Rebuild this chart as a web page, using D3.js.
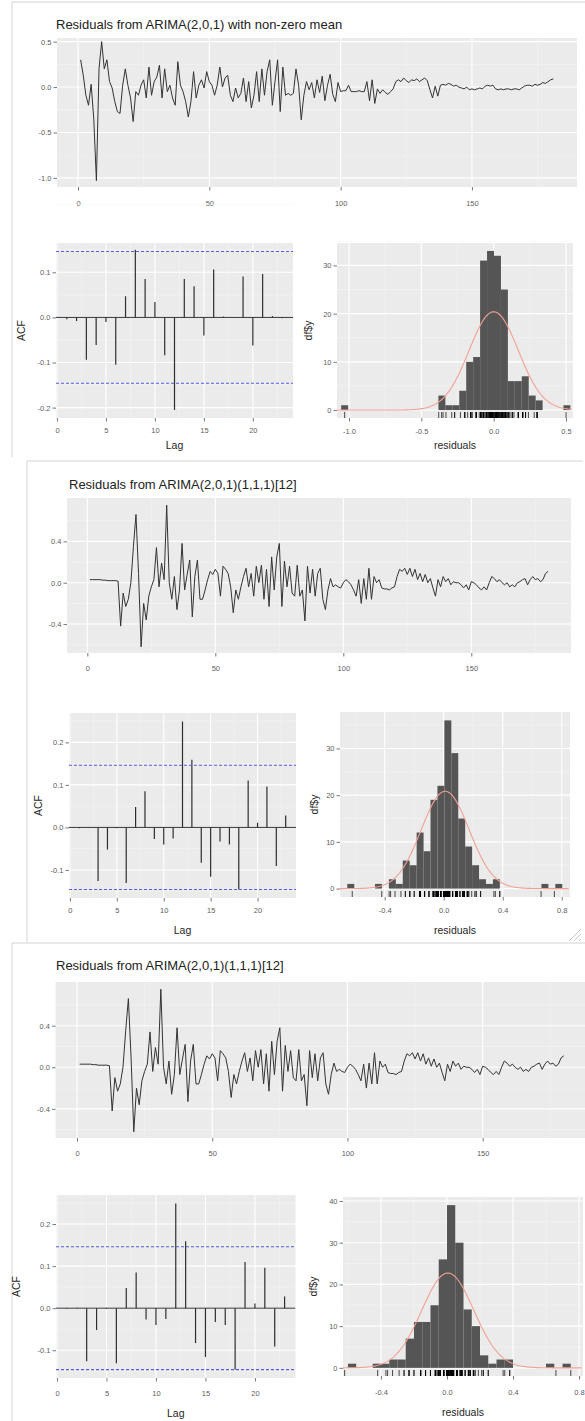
<!DOCTYPE html>
<html>
<head>
<meta charset="utf-8">
<script src="https://cdn.jsdelivr.net/npm/d3@7"></script>
<style>
  body { margin: 0; background: #fff; }
  svg { display: block; font-family: "Liberation Sans", Arial, sans-serif; }
</style>
</head>
<body>
<div id="chart"></div>
<script>
// ---- data ----
const titles = [
  "Residuals from ARIMA(2,0,1) with non-zero mean",
  "Residuals from ARIMA(2,0,1)(1,1,1)[12]",
  "Residuals from ARIMA(2,0,1)(1,1,1)[12]"
];

// residuals, model 1 (181 obs)
const resid1 = [
  0.30, 0.13, -0.09, -0.20, 0.03, -0.35, -1.03, 0.20, 0.50, 0.20,
  0.30, 0.06, -0.01, -0.16, -0.27, -0.29, 0.02, 0.20, 0.02, -0.12,
  -0.38, -0.05, -0.09, 0.02, 0.08, -0.12, 0.22, -0.09, 0.06, 0.11,
  0.24, -0.12, 0.20, -0.05, 0.02, -0.12, -0.20, 0.28, 0.02, -0.05,
  -0.16, -0.33, -0.16, 0.17, -0.12, 0.02, 0.08, -0.01, 0.17, 0.06,
  0.02, -0.09, 0.02, 0.22, 0.00, 0.10, 0.13, -0.09, -0.16, -0.01,
  -0.12, -0.07, 0.10, -0.16, 0.06, -0.23, -0.09, 0.17, -0.16, 0.20,
  -0.09, 0.17, 0.30, -0.20, 0.06, 0.30, -0.27, 0.22, -0.09, -0.07,
  -0.09, -0.07, 0.20, 0.02, -0.36, -0.09, 0.06, -0.03, 0.05, -0.12,
  0.08, -0.06, 0.12, -0.15, 0.02, 0.14, -0.08, -0.16, 0.05, -0.05,
  -0.04, -0.04, 0.02, -0.05, -0.05, -0.05, -0.04, -0.05, -0.05, 0.06,
  -0.15, 0.08, -0.18, -0.02, -0.07, -0.03, -0.06, -0.08, -0.05, -0.02,
  0.06, 0.08, 0.06, 0.10, 0.07, 0.05, 0.08, 0.07, 0.09, 0.06,
  0.08, 0.10, 0.07, -0.03, -0.12, 0.01, -0.10, 0.02, 0.03, 0.02,
  0.04, 0.03, 0.01, 0.02, 0.00, -0.01, -0.02, 0.00, -0.03, -0.02,
  -0.03, -0.02, -0.01, -0.02, 0.01, 0.02, 0.01, 0.02, -0.02, -0.03,
  -0.02, -0.03, -0.02, -0.02, -0.03, -0.02, -0.02, -0.03, -0.01, 0.01,
  0.02, 0.02, 0.01, 0.03, 0.02, 0.03, 0.05, 0.04, 0.06, 0.08, 0.09
];

// residuals, seasonal model (180 obs), shown in panels 2 and 3
const resid2 = [
  0.03, 0.03, 0.03, 0.03, 0.03, 0.025, 0.025, 0.02, 0.02, 0.02,
  0.02, 0.015, -0.42, -0.10, -0.23, -0.16, 0.00, 0.35, 0.66, 0.09,
  -0.62, -0.20, -0.36, -0.13, -0.04, 0.03, 0.34, -0.04, 0.19, 0.03,
  0.75, 0.00, -0.16, 0.06, -0.26, -0.07, 0.38, -0.07, 0.08, 0.22,
  -0.33, 0.06, 0.22, -0.16, -0.16, -0.07, 0.03, 0.11, 0.08, 0.13,
  0.09, -0.13, 0.16, 0.13, 0.09, -0.04, -0.29, -0.07, -0.16, -0.04,
  0.06, 0.14, -0.04, 0.09, -0.13, 0.16, 0.00, 0.17, -0.16, 0.13,
  -0.23, 0.25, -0.07, 0.25, 0.38, -0.23, 0.21, -0.04, 0.16, -0.10,
  -0.13, 0.17, -0.13, -0.07, -0.37, 0.16, -0.10, 0.13, -0.13, 0.09,
  0.14, -0.16, -0.26, -0.07, 0.04, -0.04, -0.02, -0.04, -0.05, 0.00,
  0.03, 0.01, -0.02, -0.07, -0.13, 0.03, -0.20, 0.04, -0.16, 0.14,
  -0.16, 0.06, 0.00, 0.03, -0.05, -0.06, -0.06, -0.07, -0.05, -0.04,
  0.06, 0.13, 0.11, 0.14, 0.08, 0.14, 0.06, 0.13, 0.03, 0.09,
  0.01, 0.08, 0.00, 0.04, -0.05, -0.13, 0.03, -0.04, 0.06, 0.01,
  0.04, -0.02, 0.01, 0.00, 0.00, -0.02, -0.05, -0.02, -0.07, 0.01,
  0.00, -0.02, -0.05, -0.07, -0.04, -0.07, 0.00, 0.06, 0.04, 0.01,
  0.03, 0.00, -0.02, 0.00, -0.04, -0.02, -0.04, 0.00, 0.01, 0.03,
  0.04, -0.02, 0.03, 0.06, 0.03, 0.04, 0.01, 0.03, 0.09, 0.11
];

const lags = [1, 2, 3, 4, 5, 6, 7, 8, 9, 10, 11, 12, 13, 14, 15, 16, 17, 18, 19, 20, 21, 22, 23];
const acf1 = [-0.004, -0.008, -0.094, -0.061, -0.010, -0.105, 0.047, 0.150, 0.085, 0.034, -0.084, -0.205,
              0.085, 0.069, -0.040, 0.106, 0.002, 0.001, 0.091, -0.062, 0.096, 0.003, -0.002];
const acf2 = [-0.002, 0.001, -0.126, -0.052, -0.002, -0.131, 0.048, 0.085, -0.027, -0.040, -0.026, 0.249,
              0.159, -0.083, -0.116, -0.033, -0.040, -0.146, 0.110, 0.011, 0.096, -0.091, 0.028];
const acfLimit = 0.146;

// histogram bins (centres) and counts
const binWidth1 = 0.048;
const bins1 = [-1.03, -0.358, -0.31, -0.262, -0.214, -0.166, -0.118, -0.07, -0.022, 0.026, 0.074, 0.122, 0.17, 0.218, 0.266, 0.314, 0.506];
const counts1 = [1, 3, 1, 1, 4, 10, 11, 31, 33, 32, 25, 6, 6, 7, 3, 2, 1];

const binWidth2 = 0.047;
const bins2 = [-0.63, -0.442, -0.348, -0.301, -0.254, -0.207, -0.16, -0.113, -0.066, -0.019, 0.028, 0.075, 0.122, 0.169, 0.216, 0.263, 0.31, 0.357, 0.686, 0.78];
const counts2 = [1, 1, 2, 1, 6, 5, 12, 8, 19, 22, 36, 29, 15, 9, 5, 2, 1, 2, 1, 1];

const binWidth3 = 0.05;
const bins3 = [-0.575, -0.425, -0.375, -0.325, -0.275, -0.225, -0.175, -0.125, -0.075, -0.025, 0.025, 0.075, 0.125, 0.175, 0.225, 0.275, 0.325, 0.375, 0.625, 0.725];
const counts3 = [1, 1, 1, 2, 2, 7, 11, 11, 15, 26, 39, 30, 14, 10, 3, 1, 2, 2, 1, 1];

// normal overlay parameters (mean, sd)
const normal1 = [0.0, 0.17];
const normal2 = [0.01, 0.162];
const normal3 = [0.005, 0.158];

// tick values
const tsTicksX = [0, 50, 100, 150];
const tsMinorX = [25, 75, 125, 175];
const ts1TicksY = [-1, -0.5, 0, 0.5];
const ts1MinorY = [-0.75, -0.25, 0.25];
const ts2TicksY = [-0.4, 0, 0.4];
const ts2MinorY = [-0.6, -0.2, 0.2, 0.6];
const acfTicksX = [0, 5, 10, 15, 20];
const acfMinorX = [2.5, 7.5, 12.5, 17.5, 22.5];
const acf1TicksY = [-0.2, -0.1, 0, 0.1];
const acf2TicksY = [-0.1, 0, 0.1, 0.2];
const acfMinorY = [-0.15, -0.05, 0.05, 0.15, 0.25];
const hist1TicksX = [-1, -0.5, 0, 0.5];
const hist1MinorX = [-0.75, -0.25, 0.25];
const hist2TicksX = [-0.4, 0, 0.4, 0.8];
const hist2MinorX = [-0.6, -0.2, 0.2, 0.6];
const histTicksY = [0, 10, 20, 30];
const hist3TicksY = [0, 10, 20, 30, 40];
const histMinorY = [5, 15, 25, 35];

// ---- layout ----
const W = 585, H = 1421;
const f1 = d => d.toFixed(1);
const f0 = d => String(d);

const panels = [
  {
    title: titles[0], tx: 56, ty: 29,
    frame: [12, 2, 585, 457],
    ts: { data: resid1, xr: [57, 577], yr: [187, 38], xd: [-8, 190], yd: [-1.10, 0.54],
          ty: ts1TicksY, tyMin: ts1MinorY, gap: 16 },
    acf: { data: acf1, xr: [56, 293], yr: [418, 243], yd: [-0.223, 0.165], ty: acf1TicksY,
           gap: 12, yTitleX: 21, xTitleY: 449 },
    hist: { bins: bins1, counts: counts1, bw: binWidth1, normal: normal1, rug: resid1,
            xr: [337, 573], yr: [418, 243], xd: [-1.083, 0.548], yd: [-1.65, 34.65],
            tx: hist1TicksX, txMin: hist1MinorX, ty: histTicksY, gap: 13, yTitleX: 308, xTitleY: 449 }
  },
  {
    title: titles[1], tx: 69, ty: 489,
    frame: [27, 461, 583, 943],
    ts: { data: resid2, xr: [67, 571], yr: [653, 498], xd: [-7.95, 188.95], yd: [-0.68, 0.82],
          ty: ts2TicksY, tyMin: ts2MinorY, gap: 15 },
    acf: { data: acf2, xr: [69, 296], yr: [898, 713], yd: [-0.166, 0.269], ty: acf2TicksY,
           gap: 12, yTitleX: 38, xTitleY: 934 },
    hist: { bins: bins2, counts: counts2, bw: binWidth2, normal: normal2, rug: resid2,
            xr: [340, 570], yr: [897, 712], xd: [-0.703, 0.856], yd: [-1.8, 37.8],
            tx: hist2TicksX, txMin: hist2MinorX, ty: histTicksY, gap: 13, yTitleX: 314, xTitleY: 934 }
  },
  {
    title: titles[2], tx: 56, ty: 970,
    frame: [12, 943, 585, 1421],
    ts: { data: resid2, xr: [55.5, 588], yr: [1138, 982], xd: [-7.95, 188.95], yd: [-0.68, 0.82],
          ty: ts2TicksY, tyMin: ts2MinorY, gap: 15 },
    acf: { data: acf2, xr: [56, 295.5], yr: [1378, 1195], yd: [-0.166, 0.269], ty: acf2TicksY,
           gap: 15, yTitleX: 16, xTitleY: 1417 },
    hist: { bins: bins3, counts: counts3, bw: binWidth3, normal: normal3, rug: resid2,
            xr: [343, 583], yr: [1376, 1197], xd: [-0.630, 0.824], yd: [-1.95, 40.95],
            tx: hist2TicksX, txMin: hist2MinorX, ty: hist3TicksY, gap: 16, yTitleX: 313, xTitleY: 1416 }
  }
];

const svg = d3.select("#chart").append("svg").attr("width", W).attr("height", H);
let clipId = 0;

function background(g, x, y, xMaj, xMin, yMaj, yMin) {
  const [l, r] = x.range(), [b, t] = y.range();
  g.append("rect").attr("x", l).attr("y", t).attr("width", r - l).attr("height", b - t).attr("fill", "#ebebeb");
  const grid = (vals, vertical, col, w) => g.append("g").selectAll("line").data(vals).join("line")
    .attr("x1", d => vertical ? x(d) : l).attr("x2", d => vertical ? x(d) : r)
    .attr("y1", d => vertical ? t : y(d)).attr("y2", d => vertical ? b : y(d))
    .attr("stroke", col).attr("stroke-width", w);
  grid(xMin, true, "#f5f5f5", 0.6);
  grid(yMin, false, "#f5f5f5", 0.6);
  grid(xMaj, true, "#ffffff", 1.1);
  grid(yMaj, false, "#ffffff", 1.1);
  const id = "clip" + (clipId++);
  g.append("clipPath").attr("id", id).append("rect")
    .attr("x", l).attr("y", t).attr("width", r - l).attr("height", b - t);
  return g.append("g").attr("clip-path", `url(#${id})`);
}

function axes(g, x, y, xMaj, yMaj, xFmt, yFmt, gap) {
  const [l] = x.range(), [b] = y.range();
  const ax = g.append("g").attr("transform", `translate(0,${b})`)
    .call(d3.axisBottom(x).tickValues(xMaj).tickFormat(xFmt).tickSize(3.5).tickPadding(gap - 6.2));
  const ay = g.append("g").attr("transform", `translate(${l},0)`)
    .call(d3.axisLeft(y).tickValues(yMaj).tickFormat(yFmt).tickSize(3.5).tickPadding(2));
  [ax, ay].forEach(a => {
    a.select(".domain").remove();
    a.selectAll(".tick line").attr("stroke", "#555").attr("stroke-width", 0.8);
    a.selectAll(".tick text").attr("fill", "#5e5e5e").attr("font-size", 7.5)
      .attr("font-family", "Liberation Sans, Arial, sans-serif");
  });
}

function axisTitle(g, text, x, y, rotate) {
  const t = g.append("text").text(text).attr("text-anchor", "middle")
    .attr("font-size", 10.5).attr("fill", "#262626");
  if (rotate) t.attr("transform", `translate(${x},${y}) rotate(-90)`).attr("dy", "0.35em");
  else t.attr("x", x).attr("y", y);
}

function drawTs(g, c) {
  const x = d3.scaleLinear().domain(c.xd).range(c.xr);
  const y = d3.scaleLinear().domain(c.yd).range(c.yr);
  const inner = background(g, x, y, tsTicksX, tsMinorX, c.ty, c.tyMin);
  inner.append("path").datum(c.data)
    .attr("d", d3.line().x((d, i) => x(i + 1)).y(d => y(d)))
    .attr("fill", "none").attr("stroke", "#333").attr("stroke-width", 1).attr("stroke-linejoin", "round");
  axes(g, x, y, tsTicksX, c.ty, f0, f1, c.gap);
}

function drawAcf(g, c) {
  const x = d3.scaleLinear().domain([-0.1, 24.1]).range(c.xr);
  const y = d3.scaleLinear().domain(c.yd).range(c.yr);
  const inner = background(g, x, y, acfTicksX, acfMinorX, c.ty, acfMinorY);
  inner.append("line").attr("x1", c.xr[0]).attr("x2", c.xr[1]).attr("y1", y(0)).attr("y2", y(0))
    .attr("stroke", "#333").attr("stroke-width", 1);
  inner.selectAll(".bar").data(c.data).join("line")
    .attr("x1", (d, i) => x(lags[i])).attr("x2", (d, i) => x(lags[i]))
    .attr("y1", y(0)).attr("y2", d => y(d))
    .attr("stroke", "#2e2e2e").attr("stroke-width", 1.2);
  [acfLimit, -acfLimit].forEach(v => inner.append("line")
    .attr("x1", c.xr[0]).attr("x2", c.xr[1]).attr("y1", y(v)).attr("y2", y(v))
    .attr("stroke", "#5b5be0").attr("stroke-width", 1.1).attr("stroke-dasharray", "3,2"));
  axes(g, x, y, acfTicksX, c.ty, f0, f1, c.gap);
  axisTitle(g, "ACF", c.yTitleX, (c.yr[0] + c.yr[1]) / 2, true);
  axisTitle(g, "Lag", (c.xr[0] + c.xr[1]) / 2, c.xTitleY, false);
}

function drawHist(g, c) {
  const x = d3.scaleLinear().domain(c.xd).range(c.xr);
  const y = d3.scaleLinear().domain(c.yd).range(c.yr);
  const inner = background(g, x, y, c.tx, c.txMin, c.ty, histMinorY);
  inner.selectAll(".bin").data(c.bins).join("rect")
    .attr("x", d => x(d - c.bw / 2)).attr("width", d => x(d + c.bw / 2) - x(d - c.bw / 2))
    .attr("y", (d, i) => y(c.counts[i])).attr("height", (d, i) => y(0) - y(c.counts[i]))
    .attr("fill", "#555");
  // normal density scaled to counts
  const n = c.rug.length, [mu, sd] = c.normal;
  const xs = d3.range(c.xd[0], c.xd[1], (c.xd[1] - c.xd[0]) / 200);
  const dens = v => n * c.bw * Math.exp(-0.5 * ((v - mu) / sd) ** 2) / (sd * Math.sqrt(2 * Math.PI));
  inner.append("path").datum(xs)
    .attr("d", d3.line().x(v => x(v)).y(v => y(dens(v))))
    .attr("fill", "none").attr("stroke", "#f2a092").attr("stroke-width", 1.1);
  inner.selectAll(".rug").data(c.rug).join("line")
    .attr("x1", d => x(d)).attr("x2", d => x(d))
    .attr("y1", c.yr[0]).attr("y2", c.yr[0] - 6)
    .attr("stroke", "#000").attr("stroke-width", 0.7);
  axes(g, x, y, c.tx, c.ty, f1, f0, c.gap);
  axisTitle(g, "df$y", c.yTitleX, (c.yr[0] + c.yr[1]) / 2, true);
  axisTitle(g, "residuals", (c.xr[0] + c.xr[1]) / 2, c.xTitleY, false);
}

panels.forEach((p, k) => {
  const g = svg.append("g");
  const [x0, y0, x1, y1] = p.frame;
  g.append("line").attr("x1", x0).attr("x2", x1).attr("y1", y0).attr("y2", y0).attr("stroke", "#d4d4d4");
  g.append("line").attr("x1", x0).attr("x2", x0).attr("y1", y0).attr("y2", y1).attr("stroke", "#d4d4d4");
  g.append("text").text(p.title).attr("x", p.tx).attr("y", p.ty)
    .attr("font-size", 13).attr("fill", "#222");
  drawTs(g, p.ts);
  drawAcf(g, p.acf);
  drawHist(g, p.hist);
  if (k === 1) {
    // resize grip of the plot window
    [0, 5, 10].forEach(o => g.append("line")
      .attr("x1", x1 - 14 + o).attr("y1", y1 - 2).attr("x2", x1 - 2).attr("y2", y1 - 14 + o)
      .attr("stroke", "#c8c8c8").attr("stroke-width", 1));
  }
});
</script>
</body>
</html>
